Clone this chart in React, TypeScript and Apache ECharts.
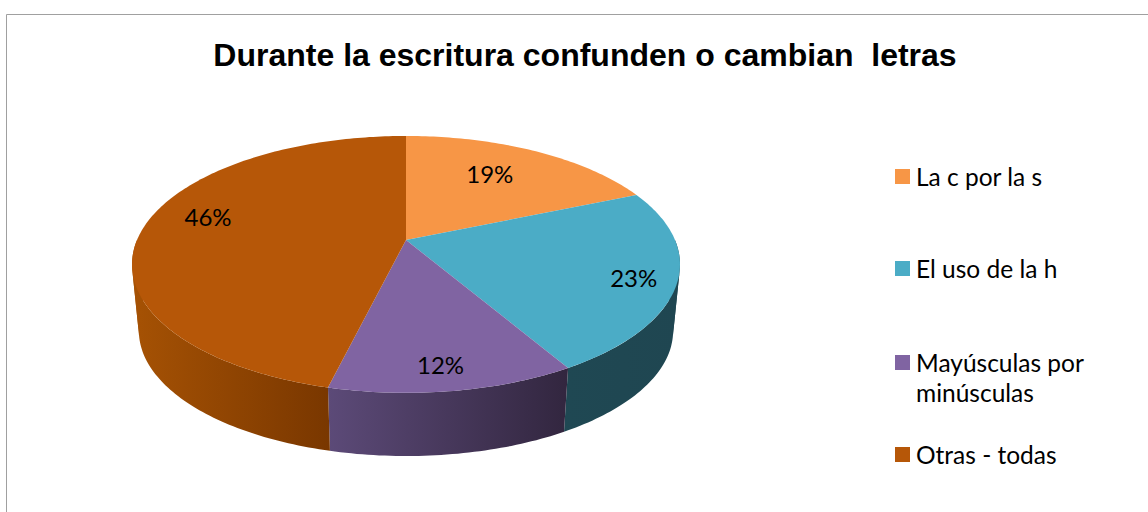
import React, { useEffect, useRef } from "react";
import * as echarts from "echarts";

const titleText = "Durante la escritura confunden o cambian  letras";
const categories = ["La c por la s", "El uso de la h", "Mayúsculas por minúsculas", "Otras - todas"];
const values = [18.6, 23.0, 12.2, 46.2];

const topColors = ["#F79646", "#4BACC6", "#8064A2", "#B65708"];
const wallColors: [string, string][] = [
  ["#F79646", "#F79646"],
  ["#1F4853", "#1F4651"],
  ["#5C4A78", "#32263F"],
  ["#A65204", "#793700"],
];
const legendTops = [161.5, 253.5, 317.5, 439.5];
const labelRadii = [0.687, 0.85, 0.85, 0.79];
const labelShiftDeg = [-3.2, 1.3, 1, 7.9];

const CX = 406, CY = 240, A = 123.8, B = 269, K = -0.19;
const WALL_SCALE = 0.975, WALL_DROP = 67;
const FONT = "Lato";

function project(deg: number, r = 1): [number, number] {
  const t = (deg * Math.PI) / 180;
  const u = r * Math.sin(t);
  const v = -r * Math.cos(t);
  const d = 1 + K * v;
  return [(B * u) / d, (A * v) / d];
}
const topPt = (deg: number, r = 1): number[] => {
  const [x, y] = project(deg, r);
  return [CX + x, CY + y];
};
const wallPt = (deg: number): number[] => {
  const [x, y] = project(deg);
  return [CX + WALL_SCALE * x, CY + WALL_SCALE * y + WALL_DROP];
};
function arcDegs(a: number, b: number): number[] {
  const out: number[] = [];
  for (let d = a; d < b; d += 1) out.push(d);
  out.push(b);
  return out;
}
// The wall strip folds over itself where the rim's tangent lines up with the
// wall's edge; it is split there so that the fold does not cancel its own fill.
function foldSign(d: number): number {
  const p = topPt(d), q = topPt(d + 0.5), w = wallPt(d);
  return Math.sign((q[0] - p[0]) * (w[1] - p[1]) - (q[1] - p[1]) * (w[0] - p[0]));
}
function splitAtFold(degs: number[]): number[][] {
  const pieces: number[][] = [];
  let cur: number[] = [degs[0]];
  for (let k = 1; k < degs.length; k++) {
    cur.push(degs[k]);
    if (foldSign(degs[k]) !== foldSign(degs[k - 1])) {
      pieces.push(cur);
      cur = [degs[k - 1], degs[k]];
    }
  }
  pieces.push(cur);
  return pieces;
}

const total = values.reduce((s, v) => s + v, 0);
const starts = values.map((_, i) => (values.slice(0, i).reduce((s, v) => s + v, 0) / total) * 360);

function makeRender(i: number) {
  return (_params: any, api: any) => {
    const sweep = (api.value(0) / total) * 360;
    const a = starts[i];
    const b = a + sweep;
    const children: any[] = [];
    const wa = Math.max(a, 90);
    const wb = Math.min(b, 270);
    if (wb > wa) {
      const degs = arcDegs(wa, wb);
      const xs = degs.flatMap((d) => [topPt(d)[0], wallPt(d)[0]]);
      const fill = new echarts.graphic.LinearGradient(
        Math.min(...xs), 0, Math.max(...xs), 0,
        [
          { offset: 0, color: wallColors[i][0] },
          { offset: 1, color: wallColors[i][1] },
        ],
        true
      );
      splitAtFold(degs).forEach((piece) => {
        children.push({
          type: "polygon",
          z2: 1,
          shape: { points: [...piece.map((d) => topPt(d)), ...piece.slice().reverse().map((d) => wallPt(d))] },
          style: { fill },
        });
      });
    }
    children.push({
      type: "polygon",
      z2: 2,
      shape: { points: [[CX, CY], ...arcDegs(a, b).map((d) => topPt(d))] },
      style: { fill: topColors[i] },
    });
    const [lx, ly] = topPt((a + b) / 2 + labelShiftDeg[i], labelRadii[i]);
    children.push({
      type: "text",
      z2: 3,
      x: lx,
      y: ly,
      style: {
        text: `${Math.round(api.value(0))}%`,
        fill: "#000",
        font: `24px ${FONT}`,
        align: "center",
        verticalAlign: "middle",
      },
    });
    return { type: "group", children };
  };
}

export default function App() {
  const ref = useRef<HTMLDivElement>(null);
  useEffect(() => {
    document.body.style.margin = "0";
    const chart = echarts.init(ref.current!, null, { renderer: "svg" });
    chart.setOption({
      animation: false,
      backgroundColor: "#fff",
      title: {
        text: titleText,
        left: 580,
        top: 34,
        textAlign: "center",
        textStyle: { fontFamily: "Liberation Sans", fontSize: 32, fontWeight: "bold", color: "#000" },
      },
      graphic: [
        {
          type: "rect",
          shape: { x: 6.5, y: 14.5, width: 1160, height: 520 },
          style: { fill: "none", stroke: "#A0A0A0", lineWidth: 1 },
          silent: true,
        },
      ],
      legend: categories.map((name, i) => ({
        data: [name],
        left: 895,
        top: legendTops[i],
        orient: "vertical",
        icon: "rect",
        itemWidth: 15,
        itemHeight: 15,
        itemGap: 0,
        padding: 0,
        selectedMode: false,
        textStyle: { fontFamily: FONT, fontSize: 24.5, color: "#000", lineHeight: 30, padding: [0, 0, 0, 1] },
        formatter: (n: string) => (n === "Mayúsculas por minúsculas" ? "\nMayúsculas por\nminúsculas" : n),
      })),
      series: categories.map((name, i) => ({
        type: "custom",
        name,
        coordinateSystem: "none",
        data: [[values[i]]],
        itemStyle: { color: topColors[i] },
        renderItem: makeRender(i),
        silent: true,
      })),
    });
    return () => chart.dispose();
  }, []);
  return <div ref={ref} style={{ width: 1148, height: 512 }} />;
}
